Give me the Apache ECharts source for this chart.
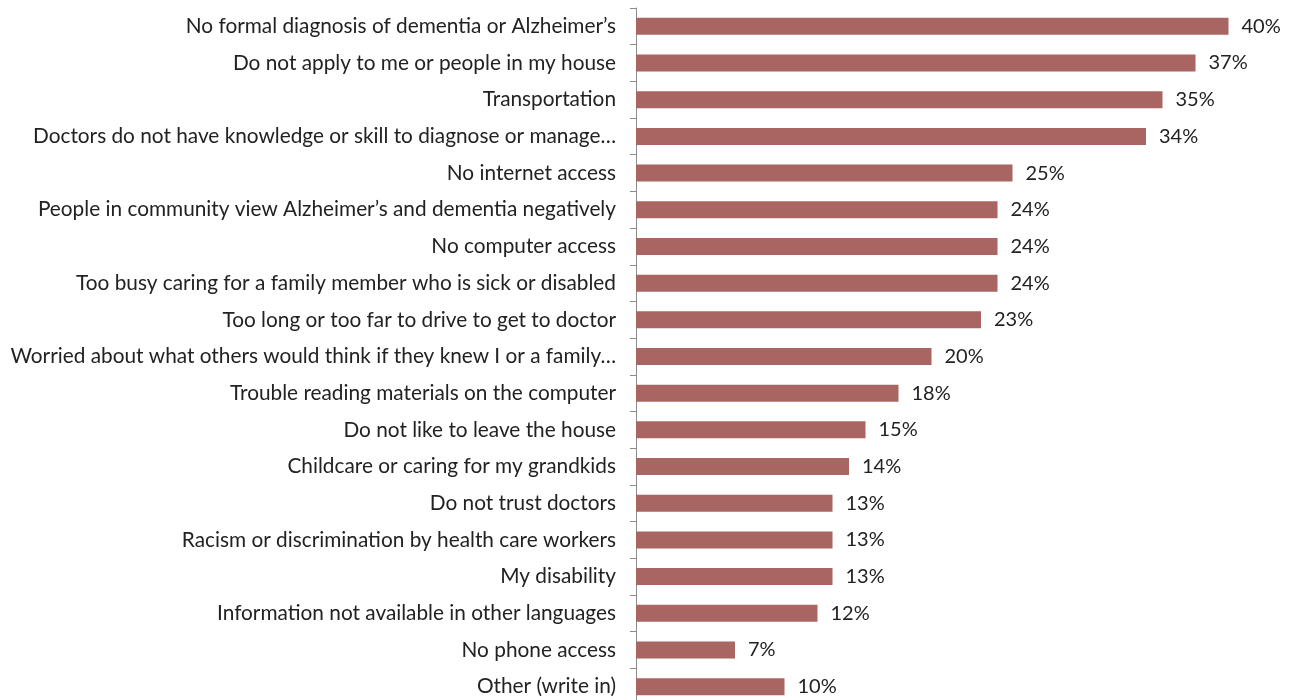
<!DOCTYPE html>
<html>
<head>
<meta charset="utf-8">
<script src="https://cdn.jsdelivr.net/npm/echarts@6/dist/echarts.min.js"></script>
<style>
  html, body { margin: 0; padding: 0; background: #fff; overflow: hidden; }
  #chart-container { width: 1289px; height: 720px; }
</style>
</head>
<body>
<div id="chart-container"></div>
<script>
// categories, top to bottom
var categories = [
  "No formal diagnosis of dementia or Alzheimer’s",
  "Do not apply to me or people in my house",
  "Transportation",
  "Doctors do not have knowledge or skill to diagnose or manage…",
  "No internet access",
  "People in community view Alzheimer’s and dementia negatively",
  "No computer access",
  "Too busy caring for a family member who is sick or disabled",
  "Too long or too far to drive to get to doctor",
  "Worried about what others would think if they knew I or a family…",
  "Trouble reading materials on the computer",
  "Do not like to leave the house",
  "Childcare or caring for my grandkids",
  "Do not trust doctors",
  "Racism or discrimination by health care workers",
  "My disability",
  "Information not available in other languages",
  "No phone access",
  "Other (write in)"
];

// percent values (labels are rounded)
var values = [39.5, 37.3, 35.1, 34.0, 25.1, 24.1, 24.1, 24.1, 23.0, 19.7, 17.5, 15.3, 14.2, 13.1, 13.1, 13.1, 12.1, 6.6, 9.9];

var dom = document.getElementById("chart-container");
var myChart = echarts.init(dom, null, {
  renderer: "canvas",
  useDirtyRect: false,
});

var option = {
  animation: false,
  textStyle: { fontFamily: "Lato" },
  grid: {
    left: 636,
    right: 8,
    top: 8,
    height: 697,
    containLabel: false,
  },
  xAxis: {
    type: "value",
    min: 0,
    max: 43,
    show: false,
  },
  yAxis: {
    type: "category",
    inverse: true,
    data: categories,
    axisLine: { show: true, lineStyle: { color: "#8c8c8c", width: 1 } },
    axisTick: { show: true, length: 6, lineStyle: { color: "#8c8c8c" } },
    axisLabel: {
      margin: 20,
      fontSize: 20.8,
      color: "#222",
      fontFamily: "Lato",
    },
    splitLine: { show: false },
  },
  series: [
    {
      type: "bar",
      data: values,
      barWidth: 17,
      itemStyle: { color: "#a86561" },
      label: {
        show: true,
        position: "right",
        distance: 13,
        fontSize: 20,
        color: "#222",
        fontFamily: "Lato",
        formatter: function (p) {
          return Math.round(p.value) + "%";
        },
      },
    },
  ],
};

if (option && typeof option === "object") {
  myChart.setOption(option);
}
window.addEventListener("resize", myChart.resize);
</script>
</body>
</html>
